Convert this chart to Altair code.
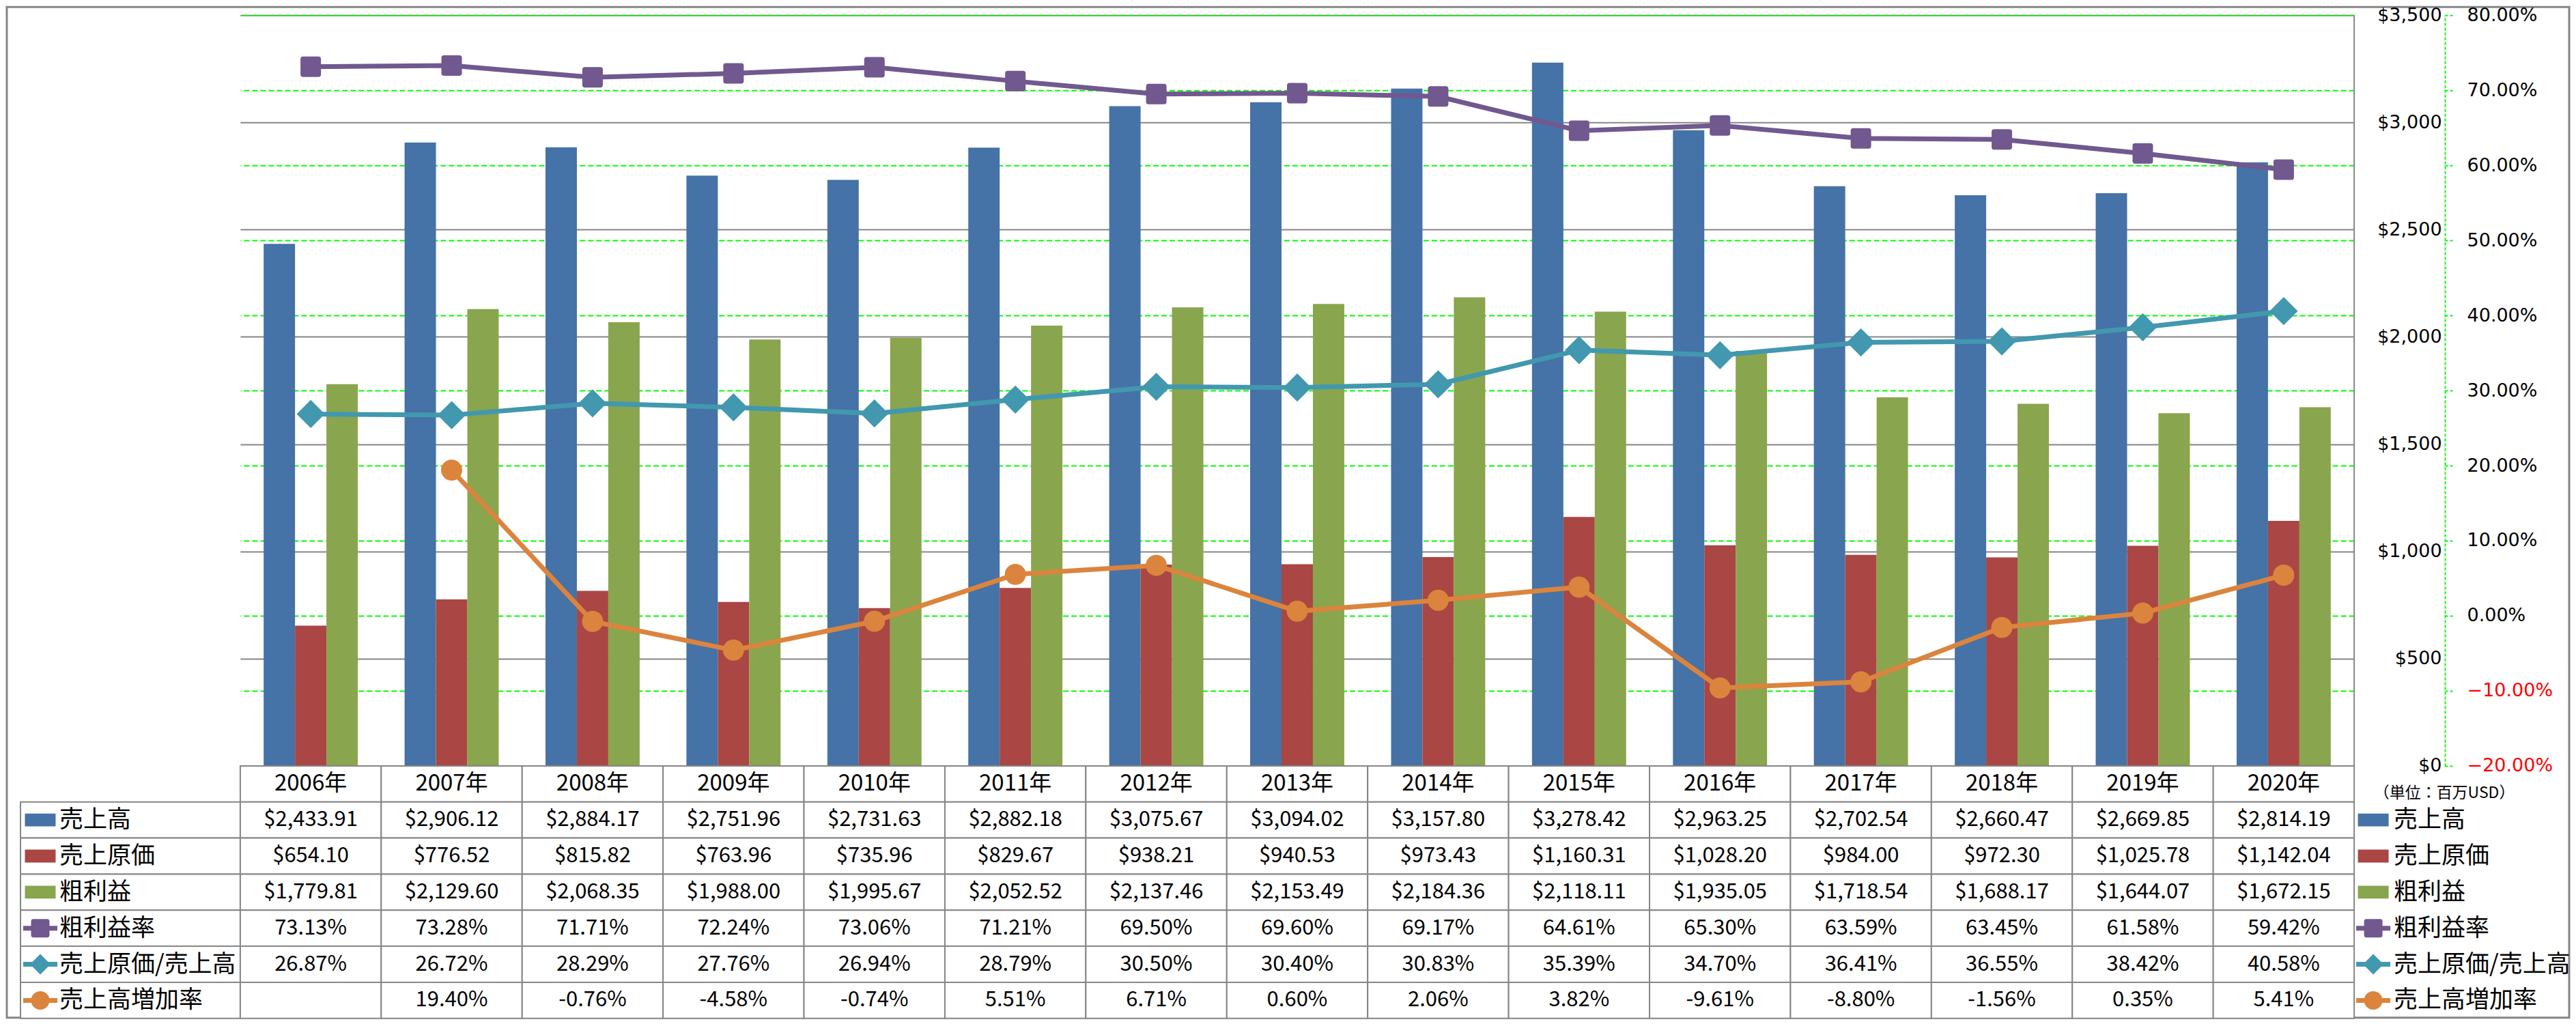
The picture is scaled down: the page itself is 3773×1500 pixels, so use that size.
import altair as alt
import pandas as pd

years = ["2006年", "2007年", "2008年", "2009年", "2010年", "2011年", "2012年", "2013年",
         "2014年", "2015年", "2016年", "2017年", "2018年", "2019年", "2020年"]
sales = [2433.91, 2906.12, 2884.17, 2751.96, 2731.63, 2882.18, 3075.67, 3094.02,
         3157.80, 3278.42, 2963.25, 2702.54, 2660.47, 2669.85, 2814.19]
cogs = [654.10, 776.52, 815.82, 763.96, 735.96, 829.67, 938.21, 940.53,
        973.43, 1160.31, 1028.20, 984.00, 972.30, 1025.78, 1142.04]
gross = [1779.81, 2129.60, 2068.35, 1988.00, 1995.67, 2052.52, 2137.46, 2153.49,
         2184.36, 2118.11, 1935.05, 1718.54, 1688.17, 1644.07, 1672.15]
gm_rate = [73.13, 73.28, 71.71, 72.24, 73.06, 71.21, 69.50, 69.60,
           69.17, 64.61, 65.30, 63.59, 63.45, 61.58, 59.42]
cost_ratio = [26.87, 26.72, 28.29, 27.76, 26.94, 28.79, 30.50, 30.40,
              30.83, 35.39, 34.70, 36.41, 36.55, 38.42, 40.58]
growth = [None, 19.40, -0.76, -4.58, -0.74, 5.51, 6.71, 0.60,
          2.06, 3.82, -9.61, -8.80, -1.56, 0.35, 5.41]

series_bar = ["売上高", "売上原価", "粗利益"]
series_line = ["粗利益率", "売上原価/売上高", "売上高増加率"]
bar_colors = ["#4572A7", "#AA4643", "#89A54E"]
line_colors = ["#71588F", "#4198AF", "#DB843D"]
usd_ticks = [0, 500, 1000, 1500, 2000, 2500, 3000, 3500]
pct_ticks = [-0.2, -0.1, 0.0, 0.1, 0.2, 0.3, 0.4, 0.5, 0.6, 0.7, 0.8]
unit_label = "（単位：百万USD）"

ROUND_SQ = "M-0.75,-1L0.75,-1Q1,-1,1,-0.75L1,0.75Q1,1,0.75,1L-0.75,1Q-1,1,-1,0.75L-1,-0.75Q-1,-1,-0.75,-1Z"
WIDE_RECT = "M-1,-0.42L1,-0.42L1,0.42L-1,0.42Z"
AX_FONT = "DejaVu Sans"
TB_FONT = "Noto Sans CJK JP"
GRID_GRAY = "#868686"
GREEN = "#00FF00"

# ---------- data tables ----------
bar_rows = []
for i, y in enumerate(years):
    for s, vals in zip(series_bar, [sales, cogs, gross]):
        bar_rows.append({"year": y, "series": s, "value": vals[i]})
bars_df = pd.DataFrame(bar_rows)

line_rows = []
for s, vals in zip(series_line, [gm_rate, cost_ratio, growth]):
    for i, y in enumerate(years):
        if vals[i] is not None:
            line_rows.append({"year": y, "series": s, "value": vals[i] / 100.0})
lines_df = pd.DataFrame(line_rows)

row_keys = ["hdr"] + series_bar + series_line

tbl_rows = []
for i, y in enumerate(years):
    tbl_rows.append({"year": y, "row": "hdr", "text": y})
    for s, vals in zip(series_bar, [sales, cogs, gross]):
        tbl_rows.append({"year": y, "row": s, "text": f"${vals[i]:,.2f}"})
    for s, vals in zip(series_line, [gm_rate, cost_ratio, growth]):
        v = vals[i]
        tbl_rows.append({"year": y, "row": s, "text": "" if v is None else f"{v:.2f}%"})
tbl_df = pd.DataFrame(tbl_rows)

leg_df = pd.DataFrame({"row": series_bar + series_line, "label": series_bar + series_line})

W = 3097
H = 1100
TH = 370
LW = 343
RW = 317

# ---------- main plot ----------
x_enc = alt.X("year:N", sort=years,
              scale=alt.Scale(domain=years, paddingInner=0.332, paddingOuter=0.166), axis=None)

usd_axis = alt.Axis(orient="right", values=usd_ticks, format="$,.0f", grid=True,
                    gridColor=GRID_GRAY, gridWidth=2, domain=False, ticks=False,
                    labelAlign="right", labelPadding=128, labelFont=AX_FONT,
                    labelFontSize=27, labelColor="black", title=None)

bars = alt.Chart(bars_df).mark_bar().encode(
    x=x_enc,
    xOffset=alt.XOffset("series:N", sort=series_bar,
                        scale=alt.Scale(domain=series_bar, paddingInner=0, paddingOuter=0)),
    y=alt.Y("value:Q", scale=alt.Scale(domain=[0, 3500], nice=False), axis=usd_axis),
    color=alt.Color("series:N", scale=alt.Scale(domain=series_bar, range=bar_colors), legend=None),
)

pct_axis = alt.Axis(orient="right", offset=133, values=pct_ticks, format=".2%", grid=True,
                    gridColor=GREEN, gridDash=[8, 4], gridWidth=2,
                    domainColor=GREEN, domainDash=[4, 3], domainWidth=2,
                    tickColor=GREEN, tickDash=[4, 3], tickSize=11, tickWidth=2,
                    labelPadding=21, labelFont=AX_FONT, labelFontSize=27,
                    labelColor={"condition": {"test": "datum.value < 0", "value": "#FF0000"},
                                "value": "black"},
                    title=None)
y_pct = alt.Y("value:Q", scale=alt.Scale(domain=[-0.2, 0.8], nice=False), axis=pct_axis)

shapes = [ROUND_SQ, "diamond", "circle"]
sizes = [900, 1700, 960]
line_layers = []
point_layers = []
for s, c, sh, sz in zip(series_line, line_colors, shapes, sizes):
    base = alt.Chart(lines_df).transform_filter(alt.datum.series == s)
    line_layers.append(base.mark_line(strokeWidth=7, color=c).encode(x=x_enc, y=y_pct))
    point_layers.append(base.mark_point(shape=sh, size=sz, filled=True, opacity=1, color=c)
                        .encode(x=x_enc, y=y_pct))

one = pd.DataFrame({"a": [0]})
border = alt.Chart(one).mark_rule(color=GRID_GRAY, strokeWidth=2).encode(
    x=alt.value(W), y=alt.value(0), y2=alt.value(H))

pct_layer = alt.layer(border, *line_layers, *point_layers)
main = alt.layer(bars, pct_layer).resolve_scale(y="independent").properties(width=W, height=H)

# top-left empty cell, which also carries the outer frame of the whole picture
frame = alt.Chart(one).mark_rect(fill="transparent", stroke=GRID_GRAY, strokeWidth=3).encode(
    x=alt.value(1), x2=alt.value(LW + W + RW - 2),
    y=alt.value(-12), y2=alt.value(H + TH - 1))
top_left = frame.properties(width=LW, height=H)


def blank(w, h):
    return alt.Chart(one).mark_point(opacity=0).encode(
        x=alt.value(0), y=alt.value(0)).properties(width=w, height=h)


# ---------- table ----------
y_row = alt.Y("row:N", sort=row_keys,
              scale=alt.Scale(domain=row_keys, paddingInner=0, paddingOuter=0), axis=None)
x_col = alt.X("year:N", sort=years, scale=alt.Scale(domain=years, paddingInner=0, paddingOuter=0),
              axis=None)

tbase = alt.Chart(tbl_df)
cells = tbase.mark_rect(fill="white", stroke=GRID_GRAY, strokeWidth=2).encode(x=x_col, y=y_row)
hdr_text = tbase.transform_filter(alt.datum.row == "hdr").mark_text(
    font=TB_FONT, fontSize=33, color="black").encode(x=x_col, y=y_row, text="text:N")
val_text = tbase.transform_filter(alt.datum.row != "hdr").mark_text(
    font=TB_FONT, fontSize=31, color="black").encode(x=x_col, y=y_row, text="text:N")
table = alt.layer(cells, hdr_text, val_text).properties(width=W, height=TH)

leg_shapes = [ROUND_SQ, "diamond", "circle"]
leg_sizes = [729, 900, 729]


def legend_block(cx, tx, with_cells):
    lb = alt.Chart(leg_df)
    layers = []
    if with_cells:
        layers.append(lb.mark_rect(fill="white", stroke=GRID_GRAY, strokeWidth=2).encode(
            x=alt.value(21), x2=alt.value(LW), y=y_row))
    for s, c in zip(series_bar, bar_colors):
        layers.append(lb.transform_filter(alt.datum.row == s)
                      .mark_point(shape=WIDE_RECT, size=2025, filled=True, opacity=1, color=c)
                      .encode(x=alt.value(cx), y=y_row))
    for s, c, sh, sz in zip(series_line, line_colors, leg_shapes, leg_sizes):
        sub = lb.transform_filter(alt.datum.row == s)
        layers.append(sub.mark_rule(strokeWidth=7, color=c)
                      .encode(x=alt.value(cx - 25), x2=alt.value(cx + 25), y=y_row))
        layers.append(sub.mark_point(shape=sh, size=sz, filled=True, opacity=1, color=c)
                      .encode(x=alt.value(cx), y=y_row))
    layers.append(lb.mark_text(align="left", font=TB_FONT, fontSize=35, color="black")
                  .encode(x=alt.value(tx), y=y_row, text="label:N"))
    return layers


labels = alt.layer(*legend_block(50, 78, True)).properties(width=LW, height=TH)

unit = alt.Chart(pd.DataFrame({"row": ["hdr"], "label": [unit_label]})).mark_text(
    font=TB_FONT, fontSize=23, color="black", dy=14).encode(
    x=alt.value(132), y=y_row, text="label:N")
legend_r = alt.layer(*legend_block(28, 58, False), unit).properties(width=RW, height=TH)

chart = alt.concat(top_left, main, blank(RW, H), labels, table, legend_r,
                   columns=3, spacing=0, bounds="flush", align="each").configure_view(
    strokeWidth=0).properties(padding=0)

chart.save("out.html", embed_options={"renderer": "svg", "actions": False})
